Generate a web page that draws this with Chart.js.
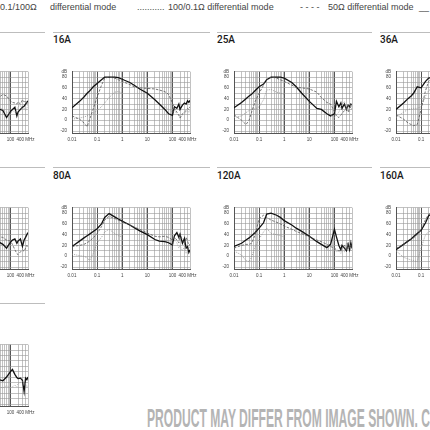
<!DOCTYPE html>
<html>
<head>
<meta charset="utf-8">
<script src="https://cdn.jsdelivr.net/npm/chart.js@4"></script>
<style>
  html, body { margin: 0; padding: 0; background: #fff; }
  body { width: 430px; height: 430px; overflow: hidden; position: relative; font-family: "Liberation Sans", Arial, sans-serif; }
  .lg { position: absolute; top: 2px; font-size: 9px; line-height: 11px; color: #444; white-space: nowrap; }
  .rule { position: absolute; height: 0; border-top: 1px solid #bdbdbd; }
  .ttl { position: absolute; font-family: Roboto, "Liberation Sans", sans-serif; font-weight: 500; font-size: 10px; line-height: 10px; color: #1a1a1a; }
  canvas { position: absolute; }
  #stamp { position: absolute; left: 147px; top: 405px; font-family: "Liberation Sans Narrow", "Liberation Sans", sans-serif; font-weight: bold; font-size: 26px; line-height: 26px; color: #b4b4b4; white-space: nowrap; transform-origin: 0 0; }
</style>
</head>
<body>

<span class="lg" style="left:0px">0.1/100Ω</span>
<span class="lg" style="left:50px">differential mode</span>
<span class="lg" style="left:137px">...........</span>
<span class="lg" style="left:168px">100/0.1Ω differential mode</span>
<span class="lg" style="left:300px">- - - -</span>
<span class="lg" style="left:328px">50Ω differential mode</span>
<span class="lg" style="left:419px">__</span>

<div id="page"></div>
<span id="stamp">PRODUCT MAY DIFFER FROM IMAGE SHOWN. C</span>

<script>
// frequency grids (MHz)
const freqs = [0.01, 0.02, 0.03, 0.04, 0.05, 0.07, 0.1, 0.15, 0.2, 0.3, 0.5, 0.7, 1, 2, 3, 5, 10, 20, 30, 50, 70, 100, 120, 150, 180, 200, 250, 300, 350, 400, 450, 500];
const freqsLow = [0.01, 0.02, 0.03, 0.04, 0.05, 0.07, 0.1, 0.15, 0.2, 0.3, 0.5, 0.7, 1];
const freqsHigh = [30, 50, 70, 100, 120, 150, 180, 200, 250, 300, 350, 400, 450, 500];

// tick labels
const xLabelValues = [0.01, 0.1, 1, 10, 100, 400];
const xLabelTexts = ["0.01", "0.1", "1", "10", "100", "400 MHz"];
const yLabelValues = [-20, 0, 20, 40, 60, 80];

// attenuation in dB
// 16A
const cm16 = [23, 35, 43, 50, 54, 62, 68, 75, 80, 80, 80, 79, 76, 70, 65, 58, 50, 38, 30, 20, 12, 9, 25, 22, 30, 20, 28, 32, 30, 36, 33, 37];
const dm50_16 = [8, 2, -5, -12, 1, 21, 43, 65, 78, 80, 78, 75, 72, 66, 62, 60, 59, 58, 56, 53, 48, 32, 22, 15, 10, 4, 12, 15, 18, 22, 20, 25];
const dmHL16 = [2, 4, 6, 8, 10, 13, 18, 25, 32, 42, 52, 53, 51];
const dmLH16 = [null, 25, 20, 15, 18, 12, 8, 5, 10, 12, 15, 18, 14, 20];
// 25A
const cm25 = [23, 33, 40, 45, 48, 55, 62, 67, 75, 80, 80, 80, 78, 70, 62, 50, 35, 22, 20, 12, 8, 12, 35, 25, 32, 22, 30, 20, 28, 25, 30, 28];
const dm50_25 = [10, 0, -8, 0, 15, 35, 50, 65, 75, 80, 78, 75, 72, 65, 61, 60, 58, 52, 42, 33, 30, 16, 8, 5, 10, 12, 18, 20, 15, 22, 25, 20];
const dmHL25 = [5, 8, 14, 18, 20, 21, 25, 38, 56, 57, 52, 50, 48];
const dmLH25 = [null, 18, 10, 5, 10, 15, 25, 30, 35, 20, 28, 15, 30, 25];
// 36A
const cm36 = [20, 32, 40, 45, 50, 62, 60, 72, 78, 80, null, null, null];
const dm50_36 = [10, 2, -5, -8, -10, -8, 20, 55, 72, 80, null, null, null];
const dmHL36 = [5, 15, 20, 21, 22, 22, 25, 45, 55, 60, null, null, null];
// 80A
const cm80 = [18, 28, 34, 38, 41, 46, 51, 60, 72, 79, 73, 69, 65, 58, 53, 47, 40, 31, 28, 27, 25, 21, 38, 44, 35, 41, 24, 33, 15, 18, 7, 12];
const dm50_80 = [18, 20, 22, 25, 28, 34, 42, 55, 67, 74, 70, 67, 64, 58, 54, 50, 43, 37, 36, 37, 35, 30, 35, 30, 25, 40, 30, 22, 35, 28, 20, 22];
const dmHL80 = [4, 1, 0, -3, -8, 5, 25, 35, 45, 50, 42, 38, 36];
const dmLH80 = [null, 30, 28, 22, 30, 25, 15, 20, 10, 18, 5, 10, 15, 20];
// 120A
const cm120 = [18, 24, 30, 34, 38, 44, 52, 62, 78, 80, 76, 72, 66, 58, 52, 46, 37, 27, 22, 16, 22, 50, 36, 20, 12, 20, 15, 10, 22, 12, 25, 15];
const dm50_120 = [15, 20, 22, 22, 24, 40, 70, 76, 72, 67, 63, 60, 56, 50, 46, 42, 36, 30, 27, 22, 18, 15, 12, 10, 12, 15, 20, 12, 25, 15, 22, 18];
const dmHL120 = [10, 2, -8, -10, -2, 18, 32, 45, 52, 42, 40, 38, 36];
const dmLH120 = [null, 12, 10, 15, 8, 10, 5, 10, 8, 25, 15, 20, 10, 18];
// 160A
const cm160 = [12, 22, 28, 32, 36, 42, 48, 62, 75, 80, null, null, null];
const dm50_160 = [15, 22, 27, 31, 34, 40, 50, 68, 78, 80, null, null, null];
const dmHL160 = [10, -2, -5, -7, -8, -10, 15, 40, 45, 50, null, null, null];
// cut-off panels on the left edge
const cmA = [22, 18, 5, 16, 20, 24, 8, 15, 20, 24, 26, 30, 33, 36];
const dm50A = [40, 48, 45, 36, 33, 32, 30, 34, 30, 38, 34, 36, 30, 32];
const dmLHA = [25, 20, 15, 12, 18, 15, 20, 25, 28, 20, 25, 18, 22, 28];
const cmB = [28, 22, 15, 26, 30, 32, 24, 28, 32, 18, 30, 35, 40, 44];
const dm50B = [36, 35, 30, 28, 22, 12, 5, 3, 8, 12, 9, 15, 20, 15];
const cmC = [26, 23, 30, 40, 44, 35, 29, 27, 28, 24, 3, 28, 25, 30];
const dm50C = [12, 10, 14, 10, 12, 15, 12, 18, 20, 22, 15, 18, 12, 15];

const panels = [
  { title: null, col: 0, row: 0, series: [[freqsHigh, dm50A, "dm50"], [freqsHigh, dmLHA, "dmLH"], [freqsHigh, cmA, "cm"]] },
  { title: "16A", col: 1, row: 0, series: [[freqs, dm50_16, "dm50"], [freqsLow, dmHL16, "dmHL"], [freqsHigh, dmLH16, "dmLH"], [freqs, cm16, "cm"]] },
  { title: "25A", col: 2, row: 0, series: [[freqs, dm50_25, "dm50"], [freqsLow, dmHL25, "dmHL"], [freqsHigh, dmLH25, "dmLH"], [freqs, cm25, "cm"]] },
  { title: "36A", col: 3, row: 0, series: [[freqsLow, dm50_36, "dm50"], [freqsLow, dmHL36, "dmHL"], [freqsLow, cm36, "cm"]] },
  { title: null, col: 0, row: 1, series: [[freqsHigh, dm50B, "dm50"], [freqsHigh, cmB, "cm"]] },
  { title: "80A", col: 1, row: 1, series: [[freqs, dm50_80, "dm50"], [freqsLow, dmHL80, "dmHL"], [freqsHigh, dmLH80, "dmLH"], [freqs, cm80, "cm"]] },
  { title: "120A", col: 2, row: 1, series: [[freqs, dm50_120, "dm50"], [freqsLow, dmHL120, "dmHL"], [freqsHigh, dmLH120, "dmLH"], [freqs, cm120, "cm"]] },
  { title: "160A", col: 3, row: 1, series: [[freqsLow, dm50_160, "dm50"], [freqsLow, dmHL160, "dmHL"], [freqsLow, cm160, "cm"]] },
  { title: null, col: 0, row: 2, series: [[freqsHigh, dm50C, "dmLH"], [freqsHigh, cmC, "cm"]] },
];

// layout
const plotLefts = [-90, 72, 234, 396];
const plotTops = [67, 203, 340];
const titleLefts = [-110, 53, 217, 380];
const titleTops = [35, 171, 307];
const ruleTops = [32, 167, 303];
const ruleSpans = [[0, 45], [53, 210], [217, 372], [380, 430]];

const lineStyles = {
  cm: { borderColor: "#111", borderWidth: 1.3, borderDash: [] },
  dm50: { borderColor: "#555", borderWidth: 0.8, borderDash: [2.5, 1.5] },
  dmHL: { borderColor: "#8a8a8a", borderWidth: 0.8, borderDash: [1, 1.2] },
  dmLH: { borderColor: "#999", borderWidth: 0.7, borderDash: [1, 1] },
};

const xGridValues = [];
for (let e = -2; e <= 2; e++) {
  for (let s = 1; s <= 9; s++) {
    const v = Number((s * Math.pow(10, e)).toPrecision(2));
    if (v <= 500) xGridValues.push(v);
  }
}

function isDecade(v) {
  const l = Math.log10(v);
  return Math.abs(l - Math.round(l)) < 1e-6;
}

function toPoints(grid, vals) {
  return grid.map((f, i) => ({ x: f, y: vals[i] })).filter(p => p.y !== null && p.y !== undefined);
}

function addRules() {
  const page = document.getElementById("page");
  ruleTops.forEach((top, r) => {
    ruleSpans.forEach(([a, b], c) => {
      if (r === 2 && c > 0) return;
      const d = document.createElement("div");
      d.className = "rule";
      d.style.left = a + "px";
      d.style.width = (b - a) + "px";
      d.style.top = top + "px";
      page.appendChild(d);
    });
  });
}

function renderPanel(p) {
  const page = document.getElementById("page");
  if (p.title) {
    const t = document.createElement("div");
    t.className = "ttl";
    t.textContent = p.title;
    t.style.left = titleLefts[p.col] + "px";
    t.style.top = titleTops[p.row] + "px";
    page.appendChild(t);
  }

  const canvas = document.createElement("canvas");
  canvas.width = 148;
  canvas.height = 80;
  canvas.style.width = "148px";
  canvas.style.height = "80px";
  canvas.style.left = (plotLefts[p.col] - 18) + "px";
  canvas.style.top = (plotTops[p.row] - 3) + "px";
  page.appendChild(canvas);

  const datasets = p.series.map(([grid, vals, kind]) => Object.assign({
    data: toPoints(grid, vals),
    pointRadius: 0,
    tension: 0,
    fill: false,
  }, lineStyles[kind]));

  new Chart(canvas.getContext("2d"), {
    type: "line",
    data: { datasets },
    options: {
      responsive: false,
      animation: false,
      devicePixelRatio: 1,
      events: [],
      layout: { padding: { top: 3, right: 12, bottom: 0, left: 0 } },
      plugins: { legend: { display: false }, tooltip: { enabled: false } },
      scales: {
        x: {
          type: "logarithmic",
          min: 0.01,
          max: 500,
          afterBuildTicks: (scale) => { scale.ticks = xGridValues.map(v => ({ value: v })); },
          afterFit: (scale) => { scale.height = 10.3; },
          grid: {
            drawTicks: false,
            color: (ctx) => (ctx.tick && isDecade(ctx.tick.value)) ? "#555" : "#999",
            lineWidth: (ctx) => (ctx.tick && isDecade(ctx.tick.value)) ? 1 : 0.6,
          },
          border: { color: "#555", width: 1 },
          ticks: {
            autoSkip: false,
            maxRotation: 0,
            padding: 3,
            color: "#444",
            font: { size: 4.5, family: "Liberation Sans" },
            callback: (v) => {
              const i = xLabelValues.findIndex(x => Math.abs(x - v) < 1e-9);
              return i >= 0 ? xLabelTexts[i] : "";
            },
          },
        },
        y: {
          min: -25,
          max: 90,
          afterBuildTicks: (scale) => {
            const t = [];
            for (let v = -20; v <= 90; v += 10) t.push({ value: v });
            scale.ticks = t;
          },
          afterFit: (scale) => { scale.width = 18; },
          grid: { drawTicks: false, color: "#999", lineWidth: 0.6 },
          border: { color: "#555", width: 1 },
          ticks: {
            autoSkip: false,
            padding: 5,
            color: "#444",
            font: { size: 4.5, family: "Liberation Sans" },
            callback: (v) => v === 90 ? "dB" : (yLabelValues.includes(v) ? String(v) : ""),
          },
        },
      },
    },
  });
}

function fitStamp() {
  const s = document.getElementById("stamp");
  const w = s.getBoundingClientRect().width;
  s.style.transform = "scaleX(" + (283 / w) + ")";
}

window.addEventListener("load", () => {
  addRules();
  panels.forEach(renderPanel);
  fitStamp();
});
</script>
</body>
</html>
